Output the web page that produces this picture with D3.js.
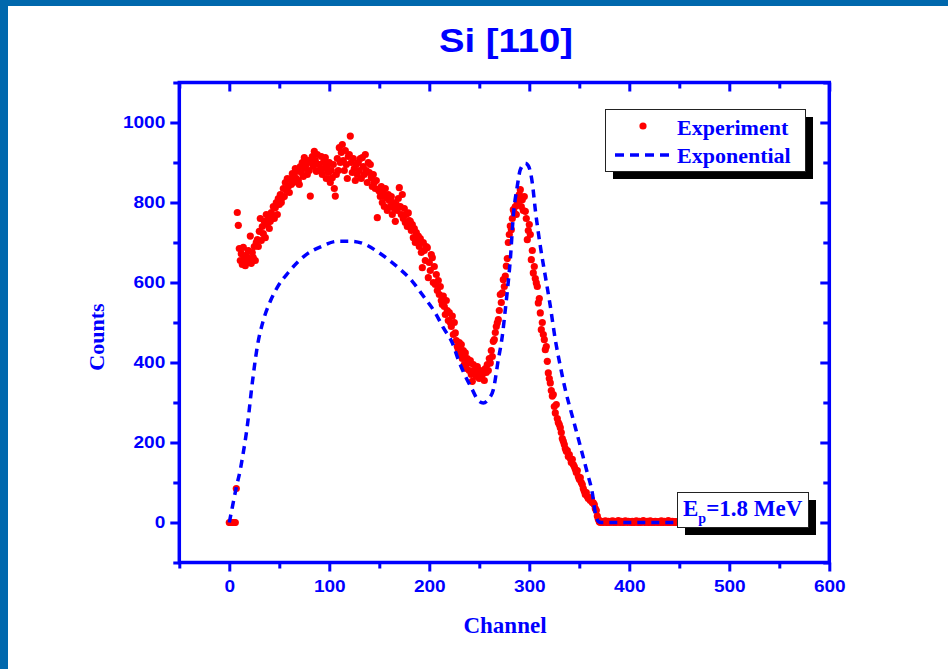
<!DOCTYPE html>
<html>
<head>
<meta charset="utf-8">
<script src="https://cdn.jsdelivr.net/npm/d3@7"></script>
<style>
  body { margin: 0; background: #fff; }
  svg { display: block; }
  .tick text { font-family: "Liberation Sans", Arial, sans-serif; font-weight: bold; font-size: 16px; fill: #0000ff; }
  .serif { font-family: "Liberation Serif", "Times New Roman", serif; font-weight: bold; fill: #0000ff; }
</style>
</head>
<body>
<div class="js-chart"></div>
<script>
// experiment counts, index = channel (0..449)
var expCounts = [
  0, 0, 0, 0, 0, 0, 0, 85, 775, 743,                 // 0
  685, 655, 672, 645, 688, 660, 642, 668, 650, 680,  // 10
  660, 716, 648, 675, 662, 690, 655, 700, 707, 690,  // 20
  728, 760, 705, 740, 722, 753, 712, 770, 745, 760,  // 30
  735, 753, 775, 765, 790, 760, 787, 800, 770, 810,  // 40
  795, 820, 800, 812, 835, 815, 850, 830, 860, 840,  // 50
  825, 858, 845, 872, 850, 870, 885, 860, 880, 855,  // 60
  845, 890, 875, 900, 865, 912, 885, 895, 870, 905,  // 70
  880, 816, 900, 915, 890, 928, 905, 878, 920, 895,  // 80
  895, 880, 915, 870, 900, 885, 912, 860, 890, 875,  // 90
  900, 850, 880, 862, 895, 835, 816, 870, 910, 880,  // 100
  937, 900, 925, 945, 905, 880, 930, 895, 860, 915,  // 110
  920, 966, 900, 875, 910, 885, 855, 895, 870, 900,  // 120
  880, 910, 860, 912, 890, 870, 920, 880, 850, 900,  // 130
  875, 895, 862, 840, 870, 850, 835, 855, 762, 832,  // 140
  828, 815, 840, 800, 825, 790, 835, 812, 780, 820,  // 150
  805, 790, 815, 770, 800, 785, 753, 795, 780, 810,  // 160
  837, 790, 770, 820, 760, 785, 750, 770, 740, 774,  // 170
  755, 753, 730, 745, 712, 735, 700, 725, 705, 716,  // 180
  690, 710, 675, 637, 700, 680, 655, 690, 687, 612,  // 190
  650, 630, 670, 662, 600, 640, 595, 620, 580, 605,  // 200
  570, 590, 555, 545, 566, 540, 520, 555, 530, 505,  // 210
  525, 500, 490, 516, 470, 500, 474, 455, 440, 432,  // 220
  450, 420, 445, 410, 430, 395, 424, 385, 410, 399,  // 230
  380, 405, 370, 353, 395, 375, 382, 365, 390, 372,  // 240
  360, 380, 365, 370, 374, 355, 385, 375, 395, 380,  // 250
  410, 399, 430, 415, 453, 457, 475, 490, 499, 507,  // 260
  530, 570, 550, 574, 607, 590, 616, 641, 660, 700,  // 270
  720, 741, 732, 760, 782, 774, 790, 770, 800, 815,  // 280
  820, 832, 790, 807, 780, 815, 778, 760, 707, 730,  // 290
  745, 720, 657, 680, 624, 640, 610, 599, 590, 549,  // 300
  560, 524, 482, 500, 470, 457, 432, 440, 403, 374,  // 310
  360, 349, 330, 316, 320, 290, 274, 295, 260, 250,  // 320
  245, 237, 225, 210, 203, 195, 185, 178, 180, 165,  // 330
  170, 160, 150, 158, 145, 140, 133, 125, 130, 115,  // 340
  108, 112, 100, 95, 85, 78, 70, 75, 65, 60,         // 350
  62, 55, 58, 50, 49, 45, 35, 30, 16, 8,             // 360
  2, 0, 3, 1, 0, 2, 4, 0, 1, 3,                      // 370
  0, 2, 1, 4, 0, 3, 1, 0, 2, 5,                      // 380
  1, 0, 3, 2, 0, 1, 4, 2, 0, 3,                      // 390
  2, 1, 0, 3, 1, 0, 2, 4, 1, 0,                      // 400
  3, 0, 1, 2, 5, 0, 2, 1, 3, 0,                      // 410
  1, 4, 0, 2, 1, 0, 3, 2, 0, 1,                      // 420
  2, 0, 4, 1, 0, 3, 1, 2, 0, 5,                      // 430
  1, 0, 2, 3, 0, 1, 2, 0, 1, 3                       // 440
];

// exponential fit
var fitChannels = [0, 3, 7, 11, 13, 18, 23, 28, 34, 41, 48, 59, 75, 93, 108, 123, 136, 150, 169, 183,
  194, 206, 214, 223, 229, 236, 243, 249, 254, 259, 264, 269, 273, 276, 278, 281, 284, 288, 291, 296,
  299, 303, 306, 311, 316, 321, 326, 331, 336, 343, 351, 358, 363, 366, 369, 372, 450];
var fitCounts = [0, 38, 88, 132, 160, 241, 349, 440, 505, 553, 588, 625, 666, 691, 703, 703, 695, 674, 637, 603,
  566, 524, 487, 449, 407, 366, 332, 305, 299, 308, 332, 407, 466, 532, 578, 657, 766, 841, 882, 898,
  892, 849, 782, 691, 616, 541, 457, 391, 332, 266, 191, 124, 74, 24, 3, 0, 0];

var xMajorTicks = [0, 100, 200, 300, 400, 500, 600];
var xMinorTicks = [-50, 50, 150, 250, 350, 450, 550];
var yMajorTicks = [0, 200, 400, 600, 800, 1000];
var yMinorTicks = [-100, 100, 300, 500, 700, 900, 1100];

var W = 948, H = 669;
var blue = '#0000ff';

var svg = d3.select('.js-chart').append('svg')
            .attr('width', W)
            .attr('height', H);

// slide border
svg.append('rect').attr('x', 0).attr('y', 0).attr('width', W).attr('height', 6).attr('fill', '#0068ad');
svg.append('rect').attr('x', 0).attr('y', 0).attr('width', 8).attr('height', H).attr('fill', '#0068ad');

var x = d3.scaleLinear().domain([-50, 600]).range([179.3, 829.3]);
var y = d3.scaleLinear().domain([-100, 1100]).range([562.5, 82.5]);

svg.append('text')
   .attr('x', 506).attr('y', 52)
   .attr('text-anchor', 'middle')
   .attr('textLength', 134)
   .attr('lengthAdjust', 'spacingAndGlyphs')
   .style('font-family', '"Liberation Sans", Arial, sans-serif')
   .style('font-weight', 'bold')
   .style('font-size', '33px')
   .style('fill', blue)
   .text('Si [110]');

var addAxis = function (axis, transform, labels) {
  var g = svg.append('g').attr('transform', transform).call(axis);
  g.select('.domain').remove();
  g.selectAll('.tick line').attr('stroke', blue).attr('stroke-width', 3);
  if (!labels) {
    g.selectAll('.tick text').remove();
  } else {
    // the original labels are drawn a bit wider than plain Arial
    g.selectAll('.tick text')
     .attr('textLength', function () { return this.textContent.length * 10.6; })
     .attr('lengthAdjust', 'spacingAndGlyphs');
  }
  return g;
};

// bottom + top (top ticks point inward = down)
addAxis(d3.axisBottom(x).tickValues(xMajorTicks).tickSize(9).tickPadding(9).tickFormat(d3.format('d')),
  'translate(0,' + y(-100) + ')', true);
addAxis(d3.axisBottom(x).tickValues(xMinorTicks).tickSize(6).tickFormat(''), 'translate(0,' + y(-100) + ')', false);
addAxis(d3.axisBottom(x).tickValues(xMajorTicks).tickSize(9).tickFormat(''), 'translate(0,' + y(1100) + ')', false);
addAxis(d3.axisBottom(x).tickValues(xMinorTicks).tickSize(6).tickFormat(''), 'translate(0,' + y(1100) + ')', false);

// left + right (right ticks point inward = left)
addAxis(d3.axisLeft(y).tickValues(yMajorTicks).tickSize(9).tickPadding(5).tickFormat(d3.format('d')),
  'translate(' + x(-50) + ',0)', true);
addAxis(d3.axisLeft(y).tickValues(yMinorTicks).tickSize(6).tickFormat(''), 'translate(' + x(-50) + ',0)', false);
addAxis(d3.axisLeft(y).tickValues(yMajorTicks).tickSize(9).tickFormat(''), 'translate(' + x(600) + ',0)', false);
addAxis(d3.axisLeft(y).tickValues(yMinorTicks).tickSize(6).tickFormat(''), 'translate(' + x(600) + ',0)', false);

// frame
svg.append('rect')
   .attr('x', x(-50)).attr('y', y(1100))
   .attr('width', x(600) - x(-50)).attr('height', y(-100) - y(1100))
   .attr('fill', 'none')
   .attr('stroke', blue)
   .attr('stroke-width', 3.5);

// axis titles
svg.append('text').attr('class', 'serif')
   .attr('x', 505).attr('y', 633)
   .attr('text-anchor', 'middle')
   .style('font-size', '23px')
   .text('Channel');

svg.append('text').attr('class', 'serif')
   .attr('transform', 'translate(104,337) rotate(-90)')
   .attr('text-anchor', 'middle')
   .style('font-size', '22px')
   .text('Counts');

// experiment points
svg.append('g').selectAll('circle')
   .data(expCounts)
   .enter().append('circle')
   .attr('cx', function (d, i) { return x(i); })
   .attr('cy', function (d) { return y(d); })
   .attr('r', 3.6)
   .attr('fill', '#ff0000');

// exponential fit
var fitLine = d3.line()
                .x(function (d) { return x(d[0]); })
                .y(function (d) { return y(d[1]); })
                .curve(d3.curveMonotoneX);

svg.append('path')
   .datum(fitChannels.map(function (c, i) { return [c, fitCounts[i]]; }))
   .attr('d', fitLine)
   .attr('fill', 'none')
   .attr('stroke', blue)
   .attr('stroke-width', 3.5)
   .attr('stroke-dasharray', '8,6');

// legend
var legend = svg.append('g');
legend.append('rect').attr('x', 613).attr('y', 117).attr('width', 200).attr('height', 62).attr('fill', '#000');
legend.append('rect').attr('x', 605.5).attr('y', 109.5).attr('width', 200).attr('height', 62)
      .attr('fill', '#fff').attr('stroke', '#222').attr('stroke-width', 1);
legend.append('circle').attr('cx', 643).attr('cy', 126).attr('r', 3.6).attr('fill', '#ff0000');
legend.append('line').attr('x1', 615).attr('x2', 671).attr('y1', 155).attr('y2', 155)
      .attr('stroke', blue).attr('stroke-width', 3.5).attr('stroke-dasharray', '9,6');
legend.append('text').attr('class', 'serif').attr('x', 677).attr('y', 135).style('font-size', '22px').text('Experiment');
legend.append('text').attr('class', 'serif').attr('x', 677).attr('y', 163).style('font-size', '22px').text('Exponential');

// beam energy label
var ep = svg.append('g');
ep.append('rect').attr('x', 685).attr('y', 500).attr('width', 131).attr('height', 35).attr('fill', '#000');
ep.append('rect').attr('x', 677.5).attr('y', 492.5).attr('width', 131).attr('height', 35)
  .attr('fill', '#fff').attr('stroke', '#222').attr('stroke-width', 1);
var epText = ep.append('text').attr('class', 'serif').attr('x', 683).attr('y', 516).style('font-size', '23px');
epText.append('tspan').text('E');
epText.append('tspan').attr('dy', 7).style('font-size', '14px').text('p');
epText.append('tspan').attr('dy', -7).text('=1.8 MeV');
</script>
</body>
</html>
